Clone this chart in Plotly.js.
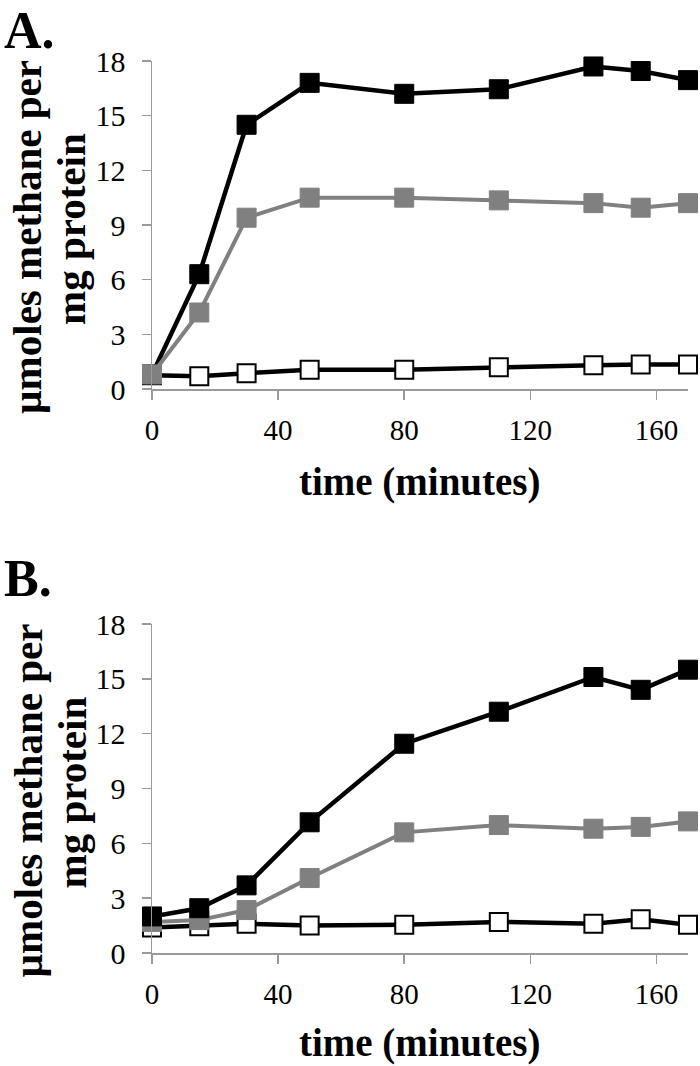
<!DOCTYPE html>
<html>
<head>
<meta charset="utf-8">
<script src="https://cdn.plot.ly/plotly-3.0.1.min.js"></script>
<style>html,body{margin:0;padding:0;background:#fff;}#chart{width:700px;height:1066px;}</style>
</head>
<body>
<div id="chart"></div>
<script>
// time points (minutes)
const timeMin = [0, 15, 30, 50, 80, 110, 140, 155, 170];

// Panel A
const A_black = [0.8, 6.3, 14.5, 16.8, 16.2, 16.45, 17.7, 17.45, 16.95];
const A_gray  = [0.8, 4.2, 9.4, 10.5, 10.5, 10.35, 10.2, 9.95, 10.2];
const A_white = [0.75, 0.7, 0.87, 1.05, 1.05, 1.2, 1.3, 1.35, 1.35];

// Panel B
const B_black = [2.0, 2.45, 3.7, 7.15, 11.45, 13.2, 15.1, 14.4, 15.5];
const B_gray  = [1.7, 1.8, 2.35, 4.1, 6.6, 7.0, 6.8, 6.9, 7.2];
const B_white = [1.4, 1.47, 1.6, 1.5, 1.55, 1.7, 1.6, 1.85, 1.55];

const xTicks = [0, 40, 80, 120, 160];
const yTicks = [0, 3, 6, 9, 12, 15, 18];
const panelLabels = ["A.", "B."];
const xTitle = "time (minutes)";
const yTitleLines = ["µmoles methane per", "mg protein"];

const serif = "Liberation Serif, Times New Roman, serif";

function tr(x, y, xa, ya, kind) {
  const styles = {
    black: {line: {color: "#000", width: 4.5}, marker: {symbol: "square", size: 19, color: "#000", line: {color: "#000", width: 1}}},
    gray:  {line: {color: "#808080", width: 4}, marker: {symbol: "square", size: 19, color: "#808080", line: {color: "#808080", width: 1}}},
    white: {line: {color: "#000", width: 4.5}, marker: {symbol: "square", size: 18, color: "#fff", line: {color: "#000", width: 2}}}
  };
  const s = styles[kind];
  return {x: x, y: y, xaxis: xa, yaxis: ya, type: "scatter", mode: "lines+markers",
          line: s.line, marker: s.marker, cliponaxis: false, showlegend: false, hoverinfo: "skip"};
}

const data = [
  tr(timeMin, A_white, "x", "y", "white"),
  tr(timeMin, A_black, "x", "y", "black"),
  tr(timeMin, A_gray, "x", "y", "gray"),
  tr(timeMin, B_white, "x2", "y2", "white"),
  tr(timeMin, B_gray, "x2", "y2", "gray"),
  tr(timeMin, B_black, "x2", "y2", "black")
];

const H = 1066, W = 700;
const xdom = [152/W, 688/W];
const yA = [1 - 389/H, 1 - 61/H];
const yB = [1 - 953/H, 1 - 624/H];

function xax(anchor) {
  return {domain: xdom, anchor: anchor, range: [0, 170], tickvals: xTicks, ticktext: xTicks.map(String),
          showline: true, linecolor: "#9a9a9a", linewidth: 1.5, ticks: "outside", ticklen: 9, tickcolor: "#9a9a9a",
          tickwidth: 1.5, showgrid: false, zeroline: false, tickfont: {family: serif, size: 29, color: "#000"},
          ticklabelstandoff: 6, fixedrange: true};
}
function yax(anchor, dom) {
  return {domain: dom, anchor: anchor, range: [0, 18], tickvals: yTicks, ticktext: yTicks.map(String),
          showline: true, linecolor: "#9a9a9a", linewidth: 1.5, ticks: "outside", ticklen: 9, tickcolor: "#9a9a9a",
          tickwidth: 1.5, showgrid: false, zeroline: false, tickfont: {family: serif, size: 30, color: "#000"},
          ticklabelstandoff: 10, fixedrange: true};
}

const ann = [];
const panels = [
  {dom: yA, label: panelLabels[0], labelTop: 0, xTitleY: 482},
  {dom: yB, label: panelLabels[1], labelTop: 548, xTitleY: 1043}
];
panels.forEach((p) => {
  const midPx = H * (1 - (p.dom[0] + p.dom[1]) / 2) + 12;
  ann.push({text: "<b>" + p.label + "</b>", xref: "paper", yref: "paper", x: 0.003, y: 1 - p.labelTop / H,
            xanchor: "left", yanchor: "top", showarrow: false,
            font: {family: serif, size: 52, color: "#000"}});
  ann.push({text: "<b>" + yTitleLines[0] + "</b>", xref: "paper", yref: "paper", x: 27/W, y: 1 - midPx / H,
            xanchor: "center", yanchor: "middle", textangle: -90, showarrow: false,
            font: {family: serif, size: 41, color: "#000"}});
  ann.push({text: "<b>" + yTitleLines[1] + "</b>", xref: "paper", yref: "paper", x: 71/W, y: 1 - (midPx - 8) / H,
            xanchor: "center", yanchor: "middle", textangle: -90, showarrow: false,
            font: {family: serif, size: 41, color: "#000"}});
  ann.push({text: "<b>" + xTitle + "</b>", xref: "paper", yref: "paper", x: (xdom[0] + xdom[1]) / 2,
            y: 1 - p.xTitleY / H, xanchor: "center", yanchor: "middle", showarrow: false,
            font: {family: serif, size: 39, color: "#000"}});
});

const layout = {
  width: W, height: H,
  margin: {l: 0, r: 0, t: 0, b: 0},
  paper_bgcolor: "#fff", plot_bgcolor: "#fff",
  xaxis: xax("y"), yaxis: yax("x", yA),
  xaxis2: xax("y2"), yaxis2: yax("x2", yB),
  annotations: ann
};

Plotly.newPlot("chart", data, layout, {staticPlot: true, displayModeBar: false});
</script>
</body>
</html>
